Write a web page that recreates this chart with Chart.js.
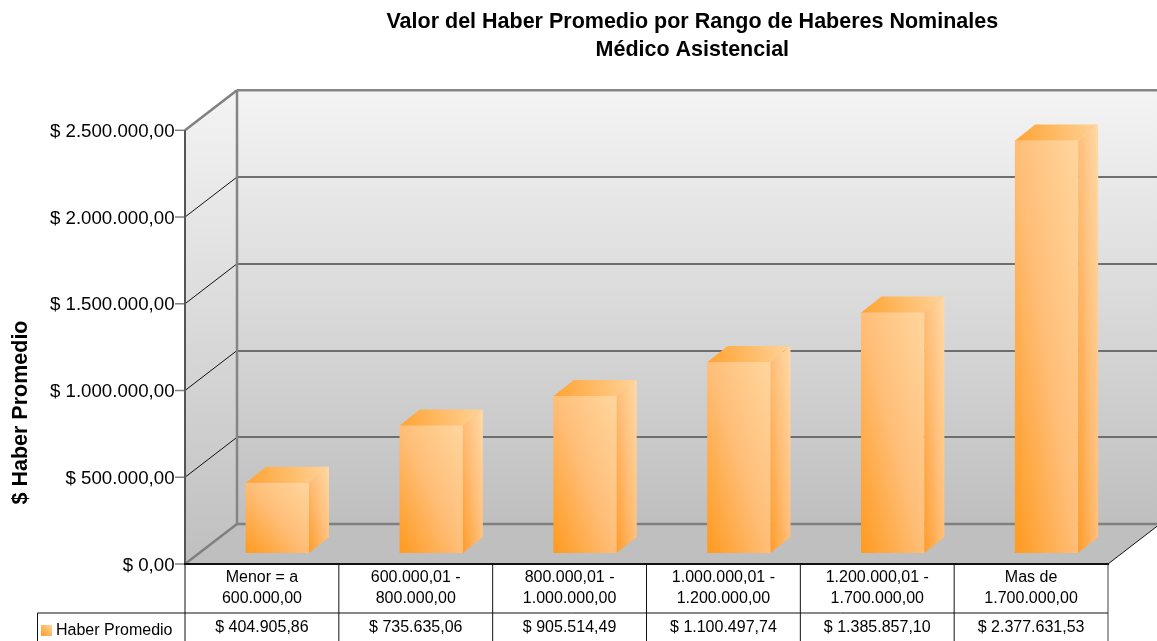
<!DOCTYPE html>
<html>
<head>
<meta charset="utf-8">
<title>Valor del Haber Promedio</title>
<script src="https://cdn.jsdelivr.net/npm/chart.js@4"></script>
<style>
  html, body { margin: 0; padding: 0; background: #fff; }
  #wrap { position: relative; width: 1157px; height: 641px; overflow: hidden; }
</style>
</head>
<body>
<div id="wrap"><canvas id="barChart" width="1157" height="641"></canvas></div>
<script>
var categories = [
  ["Menor = a", "600.000,00"],
  ["600.000,01 -", "800.000,00"],
  ["800.000,01 -", "1.000.000,00"],
  ["1.000.000,01 -", "1.200.000,00"],
  ["1.200.000,01 -", "1.700.000,00"],
  ["Mas de", "1.700.000,00"]
];
var haberPromedio = [404905.86, 735635.06, 905514.49, 1100497.74, 1385857.10, 2377631.53];
var seriesName = "Haber Promedio";
var chartTitle = ["Valor del Haber Promedio por Rango de Haberes Nominales", "Médico Asistencial"];
var yTitle = "$ Haber Promedio";

var FONT = '"Liberation Sans", Arial, sans-serif';
// the bars stand in the middle of the floor, the walls are drawn around them
var frontDx = -15.6, frontDy = 11;
var depthX = 52, depthY = -40;
var barDx = 20, barDy = -16;

function money(v) {
  return "$ " + v.toLocaleString("de-DE", { minimumFractionDigits: 2, maximumFractionDigits: 2 });
}

// same colour on the top-left and bottom-right corners of the face
function diagGradient(ctx, left, top, right, bottom, stops) {
  var w = right - left, h = bottom - top;
  var cx = (left + right) / 2, cy = (top + bottom) / 2;
  var len = Math.sqrt(w * w + h * h);
  var nx = h / len, ny = -w / len;
  var half = Math.abs(nx * w / 2 + ny * (-h / 2));
  var g = ctx.createLinearGradient(cx - nx * half, cy - ny * half, cx + nx * half, cy + ny * half);
  stops.forEach(function (s, i) { g.addColorStop(i / (stops.length - 1), s); });
  return g;
}

function poly(ctx, pts, fill) {
  ctx.beginPath();
  ctx.moveTo(pts[0][0], pts[0][1]);
  for (var i = 1; i < pts.length; i++) ctx.lineTo(pts[i][0], pts[i][1]);
  ctx.closePath();
  ctx.fillStyle = fill;
  ctx.fill();
}

function line(ctx, x1, y1, x2, y2, color, width) {
  ctx.beginPath();
  ctx.moveTo(x1, y1);
  ctx.lineTo(x2, y2);
  ctx.strokeStyle = color;
  ctx.lineWidth = width;
  ctx.stroke();
}

var threeD = {
  id: "threeD",
  afterLayout: function (chart) {
    // title is centred over the back wall, not over the canvas
    chart.titleBlock.left += 130.5;
    chart.titleBlock.right += 130.5;
  },
  beforeDatasetsDraw: function (chart) {
    var ctx = chart.ctx, y = chart.scales.y, a = chart.chartArea;
    var x0 = a.left + frontDx, x1 = a.right + frontDx;
    var y0 = y.getPixelForValue(0) + frontDy, yT = y.getPixelForValue(y.max) + frontDy;
    var backX0 = x0 + depthX, backX1 = x1 + depthX;

    ctx.save();
    var wall = ctx.createLinearGradient(0, yT + depthY, 0, y0 + depthY);
    wall.addColorStop(0, "#f4f4f4");
    wall.addColorStop(1, "#bfbfbf");
    poly(ctx, [[backX0, yT + depthY], [backX1, yT + depthY], [backX1, y0 + depthY], [backX0, y0 + depthY]], wall);
    var side = ctx.createLinearGradient(0, yT + depthY, 0, y0);
    side.addColorStop(0, "#f4f4f4");
    side.addColorStop(1, "#bfbfbf");
    poly(ctx, [[x0, yT], [backX0, yT + depthY], [backX0, y0 + depthY], [x0, y0]], side);
    poly(ctx, [[x0, y0], [backX0, y0 + depthY], [backX1, y0 + depthY], [x1, y0]], "#bfbfbf");

    // grid lines on both walls
    y.ticks.forEach(function (t) {
      var py = y.getPixelForValue(t.value) + frontDy;
      if (t.value > 0 && t.value < y.max) {
        line(ctx, x0, py, backX0, py + depthY, "#111", 1);
        line(ctx, backX0, Math.round(py + depthY), backX1, Math.round(py + depthY), "#6e6e6e", 2);
      }
      line(ctx, x0 - 10, py, x0, py, "#808080", 1.5);
    });
    line(ctx, backX0, yT + depthY, backX1, yT + depthY, "#858585", 2.5);
    line(ctx, backX0, y0 + depthY, backX1, y0 + depthY, "#808080", 2.5);
    line(ctx, backX0, yT + depthY, backX0, y0 + depthY, "#858585", 2.5);
    line(ctx, x0, yT, backX0, yT + depthY, "#808080", 2.5);
    line(ctx, x0, y0, backX0, y0 + depthY, "#808080", 2.5);
    line(ctx, x0, yT, x0, y0, "#555", 2);
    line(ctx, x1, y0, backX1, y0 + depthY, "#111", 1);
    ctx.restore();
  },
  afterDatasetsDraw: function (chart) {
    var ctx = chart.ctx;
    ctx.save();
    chart.getDatasetMeta(0).data.forEach(function (bar) {
      var l = bar.x - bar.width / 2, r = bar.x + bar.width / 2, t = bar.y, b = bar.base;
      poly(ctx, [[r, t], [r + barDx, t + barDy], [r + barDx, b + barDy], [r, b]],
        diagGradient(ctx, r, t + barDy, r + barDx, b, ["#ff9c2a", "#ffbe78", "#ffdba8"]));
      var g = ctx.createLinearGradient(l, t, r + barDx, t + barDy);
      g.addColorStop(0, "#ffa332");
      g.addColorStop(1, "#ffd39a");
      poly(ctx, [[l, t], [l + barDx, t + barDy], [r + barDx, t + barDy], [r, t]], g);
    });
    ctx.restore();
  },
  afterDraw: function (chart) {
    var ctx = chart.ctx, a = chart.chartArea, x = chart.scales.x, y = chart.scales.y;
    var x0 = a.left + frontDx, x1 = a.right + frontDx;
    var top = y.getPixelForValue(0) + frontDy;
    var rowY = top + 49, bottom = chart.height;
    var cell = (x1 - x0) / categories.length;

    ctx.save();
    ctx.textAlign = "center";
    ctx.textBaseline = "middle";
    ctx.fillStyle = "#000";
    ctx.font = "16px " + FONT;
    categories.forEach(function (c, i) {
      var cx = x.getPixelForValue(i) + frontDx;
      ctx.fillText(c[0], cx, top + 14);
      ctx.fillText(c[1], cx, top + 35);
      ctx.fillText(money(haberPromedio[i]), cx, rowY + 15);
      if (i > 0) line(ctx, x0 + cell * i, top, x0 + cell * i, bottom, "#111", 1);
    });
    line(ctx, x0, top, x0, bottom, "#111", 1);
    line(ctx, x1, top, x1, bottom, "#808080", 1.5);
    line(ctx, 37.5, rowY, x1, rowY, "#111", 1);
    line(ctx, 37.5, rowY, 37.5, bottom, "#111", 1);
    line(ctx, x0 - 1, top, x1 + 1, top, "#111", 2);

    var sw = ctx.createLinearGradient(41, 636, 52, 625);
    sw.addColorStop(0, "#ff9c2a");
    sw.addColorStop(1, "#ffd59b");
    ctx.fillStyle = sw;
    ctx.fillRect(41, 625, 11, 11);
    ctx.fillStyle = "#000";
    ctx.textAlign = "left";
    ctx.fillText(seriesName, 56, 631);

    // axis title sits lower than the scale's own centre
    ctx.translate(21, 412.5);
    ctx.rotate(-Math.PI / 2);
    ctx.textAlign = "center";
    ctx.font = "bold 21.5px " + FONT;
    ctx.fillText(yTitle, 0, 0);
    ctx.restore();
  }
};

var ctx = document.getElementById("barChart").getContext("2d");
var barChart = new Chart(ctx, {
  type: "bar",
  data: {
    labels: categories,
    datasets: [{
      label: seriesName,
      data: haberPromedio,
      barThickness: 63,
      borderWidth: 0,
      backgroundColor: function (c) {
        var chart = c.chart;
        if (!chart.chartArea || c.dataIndex === undefined) return "#ffbd74";
        var px = chart.scales.x.getPixelForValue(c.dataIndex);
        var py = chart.scales.y.getPixelForValue(haberPromedio[c.dataIndex]);
        return diagGradient(chart.ctx, px - 31.5, py, px + 31.5, chart.chartArea.bottom,
          ["#ff9a1f", "#ffbe78", "#ffd69e"]);
      }
    }]
  },
  options: {
    responsive: false,
    animation: false,
    layout: { padding: { top: 0, right: 33.4, bottom: 88, left: 0 } },
    plugins: {
      legend: { display: false },
      tooltip: { enabled: false },
      title: {
        display: true,
        text: chartTitle,
        color: "#000",
        font: { family: FONT, size: 21.5, weight: "bold", lineHeight: 1.3 },
        padding: { top: 8, bottom: 55.4 }
      }
    },
    scales: {
      x: { display: false, grid: { display: false } },
      y: {
        min: 0,
        max: 2500000,
        grid: { display: false },
        border: { display: false },
        afterFit: function (scale) { scale.width = 200.6; },
        ticks: {
          stepSize: 500000,
          color: "#000",
          padding: 18,
          labelOffset: 12.5,
          font: { family: FONT, size: 18.7 },
          callback: function (v) { return money(v); }
        }
      }
    }
  },
  plugins: [threeD]
});
</script>
</body>
</html>
